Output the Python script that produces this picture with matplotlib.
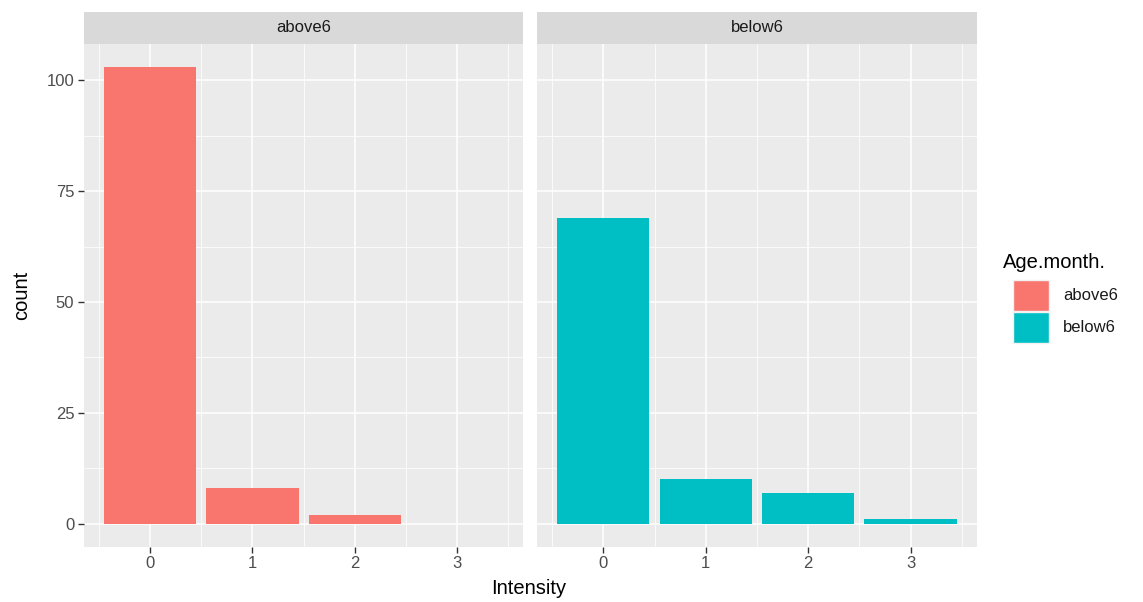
import numpy as np
import matplotlib
matplotlib.use("Agg")
import matplotlib.pyplot as plt
from matplotlib.patches import Rectangle

plt.rcParams['font.family'] = ['Liberation Sans', 'DejaVu Sans']

# data
groups = ["above6", "below6"]
colors = ["#F8766D", "#00BFC4"]
intensity_above6 = [0, 1, 2]
count_above6 = [103, 8, 2]
intensity_below6 = [0, 1, 2, 3]
count_below6 = [69, 10, 7, 1]
xticks = [0, 1, 2, 3]
yticks = [0, 25, 50, 75, 100]

panels = [(intensity_above6, count_above6), (intensity_below6, count_below6)]

W, H = 1143, 602
fig = plt.figure(figsize=(W / 100, H / 100), dpi=100)

bg = "#EBEBEB"
strip_bg = "#D9D9D9"
tick_col = "#4D4D4D"

ax_bottom = 1 - 546.7 / H
ax_top = 1 - 44 / H
strip_top = 1 - 12 / H
lefts = [84, 537.3]
width = 439.3

ylim = (-0.05 * 103, 103 * 1.05)
xlim = (-0.45 - 0.195, 3.45 + 0.195)

for i, (xs, ys) in enumerate(panels):
    ax = fig.add_axes([lefts[i] / W, ax_bottom, width / W, ax_top - ax_bottom])
    ax.set_facecolor(bg)
    ax.set_xlim(*xlim)
    ax.set_ylim(*ylim)
    # grid
    for y in yticks:
        ax.axhline(y, color="white", lw=1.1, zorder=1)
    for y in np.arange(12.5, 110, 25):
        ax.axhline(y, color="white", lw=0.55, zorder=1)
    for x in xticks:
        ax.axvline(x, color="white", lw=1.1, zorder=1)
    for x in np.arange(-0.5, 3.6, 1):
        ax.axvline(x, color="white", lw=0.55, zorder=1)
    ax.bar(xs, ys, width=0.9, color=colors[i], zorder=2)
    for s in ax.spines.values():
        s.set_visible(False)
    ax.set_xticks(xticks)
    ax.set_xticklabels([str(t) for t in xticks])
    ax.tick_params(axis="both", colors="#333333", length=4, width=1,
                   labelsize=12, labelcolor=tick_col, pad=3)
    if i == 0:
        ax.set_yticks(yticks)
        ax.set_yticklabels([str(t) for t in yticks])
        ax.set_ylabel("count", fontsize=14.5, labelpad=11)
    else:
        ax.set_yticks([])

    # facet strip
    sax = fig.add_axes([lefts[i] / W, ax_top, width / W, strip_top - ax_top])
    sax.set_facecolor(strip_bg)
    sax.set_xticks([])
    sax.set_yticks([])
    for s in sax.spines.values():
        s.set_visible(False)
    sax.text(0.5, 0.5, groups[i], ha="center", va="center", fontsize=12,
             color="#1A1A1A", transform=sax.transAxes)

fig.text(529 / W, 1 - 589 / H, "Intensity", ha="center",
         va="center", fontsize=14.5)

# legend
fig.text(1003 / W, 1 - 262 / H, "Age.month.", ha="left", va="center",
         fontsize=14.5)
key_tops = [280, 312]
for g, c, kt in zip(groups, colors, key_tops):
    fig.patches.append(Rectangle((1013 / W, 1 - (kt + 31) / H), 36 / W, 31 / H,
                                 transform=fig.transFigure, facecolor=c,
                                 edgecolor="#F2F2F2", lw=1))
    fig.text(1063 / W, 1 - (kt + 15.5) / H, g, ha="left", va="center",
             fontsize=12, color="#1A1A1A")

fig.savefig("out.png", dpi=100)
